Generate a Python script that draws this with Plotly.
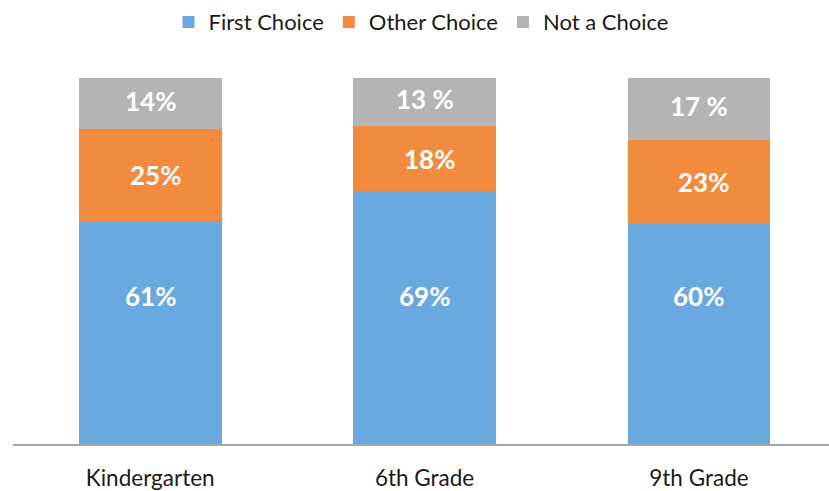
import plotly.graph_objects as go

categories = ["Kindergarten", "6th Grade", "9th Grade"]
first_choice = [61, 69, 60]
other_choice = [25, 18, 23]
not_choice = [14, 13, 17]
first_labels = ["61%", "69%", "60%"]
other_labels = ["25%", "18%", "23%"]
not_labels = ["14%", "13 %", "17 %"]

series = [
    ("First Choice", first_choice, "#69a9e0"),
    ("Other Choice", other_choice, "#f38b3f"),
    ("Not a Choice", not_choice, "#b4b4b4"),
]

fig = go.Figure()
for name, vals, color in series:
    fig.add_trace(go.Bar(
        x=categories, y=vals, name=name,
        marker=dict(color=color, line=dict(width=0)),
        width=0.52, hoverinfo="x+y+name",
    ))

label_font = dict(family="Lato", size=26, color="white", weight="bold")
BLUE_LABEL_LEVEL = 40.4  # Excel placed the first-choice labels at a common height
for i, cat in enumerate(categories):
    f, o, n = first_choice[i], other_choice[i], not_choice[i]
    fig.add_annotation(x=cat, y=BLUE_LABEL_LEVEL, text=first_labels[i],
                       showarrow=False, font=label_font)
    fig.add_annotation(x=cat, y=f + o / 2, text=other_labels[i],
                       showarrow=False, font=label_font, xshift=5)
    fig.add_annotation(x=cat, y=f + o + n / 2, text=not_labels[i],
                       showarrow=False, font=label_font, yshift=3)

fig.update_layout(
    barmode="stack",
    width=829, height=491,
    margin=dict(l=13, r=0, t=78, b=44),
    plot_bgcolor="white", paper_bgcolor="white",
    font=dict(family="Lato", size=22, color="#1a1a1a"),
    legend=dict(
        orientation="h", x=0.5, xanchor="center",
        yref="container", y=0.955, yanchor="middle",
        font=dict(family="Lato", size=22, color="#1a1a1a"),
        itemwidth=30, traceorder="normal",
    ),
    xaxis=dict(
        range=[-0.5, 2.474], showline=True, linecolor="#a6a6a6", linewidth=1.5,
        ticks="", showgrid=False, ticklabelstandoff=13,
        tickfont=dict(family="Lato", size=22.5, color="#1a1a1a"),
    ),
    yaxis=dict(range=[0, 100], visible=False, showgrid=False),
)

fig.write_html("out.html", config={"displayModeBar": False},
               post_script="document.body.style.margin='0';")
